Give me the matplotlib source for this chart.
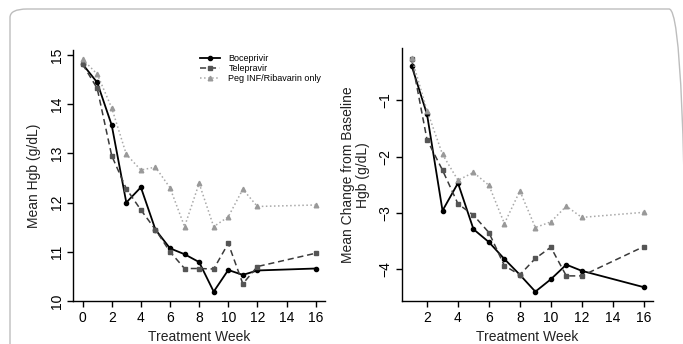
import matplotlib
matplotlib.use("Agg")
import matplotlib.pyplot as plt
from matplotlib.patches import FancyBboxPatch

plt.rcParams['font.family'] = ['Liberation Sans', 'DejaVu Sans']

# left panel: mean Hgb by week
weeks_left = [0, 1, 2, 3, 4, 5, 6, 7, 8, 9, 10, 11, 12, 16]
boc_hgb = [14.81, 14.44, 13.57, 12.00, 12.31, 11.45, 11.07, 10.95, 10.79, 10.19, 10.63, 10.53, 10.62, 10.66]
tel_hgb = [14.81, 14.32, 12.95, 12.28, 11.85, 11.45, 11.00, 10.66, 10.66, 10.65, 11.17, 10.35, 10.70, 10.97]
peg_hgb = [14.91, 14.61, 13.92, 12.98, 12.66, 12.72, 12.30, 11.51, 12.39, 11.51, 11.71, 12.27, 11.92, 11.95]

# right panel: mean change from baseline
weeks_right = [1, 2, 3, 4, 5, 6, 7, 8, 9, 10, 11, 12, 16]
boc_chg = [-0.38, -1.25, -2.96, -2.47, -3.29, -3.52, -3.82, -4.10, -4.40, -4.18, -3.92, -4.03, -4.32]
tel_chg = [-0.26, -1.70, -2.24, -2.84, -3.04, -3.35, -3.94, -4.10, -3.81, -3.61, -4.12, -4.12, -3.60]
peg_chg = [-0.24, -1.18, -1.96, -2.42, -2.28, -2.51, -3.19, -2.61, -3.26, -3.16, -2.88, -3.08, -2.99]

labels = ["Boceprivir", "Telepravir", "Peg INF/Ribavarin only"]

fig = plt.figure(figsize=(6.83, 3.44), dpi=100)

# light rounded frame around the figure
frame = FancyBboxPatch((10 / 683, -0.2), 0.99, 1.2 - 9 / 344,
                       boxstyle="round,pad=0,rounding_size=0.025",
                       transform=fig.transFigure, fill=False,
                       edgecolor="#bdbdbd", linewidth=1.0)
fig.patches.append(frame)

ax1 = fig.add_axes([0.1073, 0.125, 0.3685, 0.7297])
ax2 = fig.add_axes([0.589, 0.125, 0.367, 0.7346])


def draw(ax, x, boc, tel, peg):
    ax.plot(x, boc, '-', color='black', lw=1.3, marker='o', ms=3.0,
            label=labels[0])
    ax.plot(x, tel, '--', color='#3a3a3a', lw=1.1, marker='s', ms=3.0,
            mfc='#555555', mec='#555555', label=labels[1], dashes=(4, 2.5))
    ax.plot(x, peg, ':', color='#a8a8a8', lw=1.1, marker='^', ms=3.3,
            mfc='#999999', mec='#999999', label=labels[2])
    ax.margins(x=0.04, y=0.04)
    for s in ['top', 'right']:
        ax.spines[s].set_visible(False)
    for s in ['left', 'bottom']:
        ax.spines[s].set_linewidth(1.0)
    ax.tick_params(direction='out', length=4, width=1.0, labelsize=10, pad=3)
    ax.set_xlabel("Treatment Week", fontsize=10, labelpad=4, color='#222222')


draw(ax1, weeks_left, boc_hgb, tel_hgb, peg_hgb)
ax1.set_xticks([0, 2, 4, 6, 8, 10, 12, 14, 16])
ax1.set_yticks([10, 11, 12, 13, 14, 15])
for t in ax1.get_yticklabels():
    t.set_rotation(90)
    t.set_va('center')
ax1.set_ylabel("Mean Hgb (g/dL)", fontsize=10, labelpad=6, color='#222222')
ax1.legend(loc='upper left', bbox_to_anchor=(0.505, 0.985), frameon=False,
           fontsize=6.5, handlelength=2.2, handletextpad=0.9,
           labelspacing=0.15, borderaxespad=0, borderpad=0)

draw(ax2, weeks_right, boc_chg, tel_chg, peg_chg)
ax2.set_xticks([2, 4, 6, 8, 10, 12, 14, 16])
ax2.set_yticks([-4, -3, -2, -1])
for t in ax2.get_yticklabels():
    t.set_rotation(90)
    t.set_va('center')
ax2.set_ylabel("Mean Change from Baseline\nHgb (g/dL)", fontsize=10,
               labelpad=6, color='#222222', linespacing=1.1)

fig.savefig("out.png", dpi=100, facecolor='white')
